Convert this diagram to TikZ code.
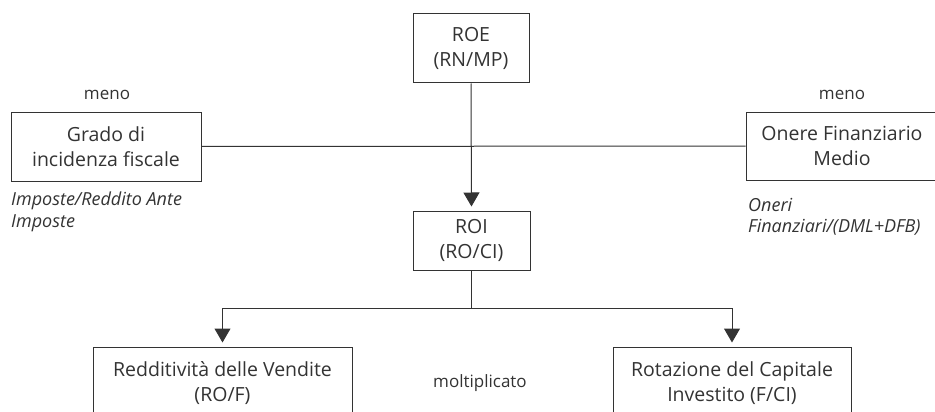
\documentclass[tikz,border=0pt]{standalone}
\usepackage{fontspec}
\setmainfont{Open Sans}
\usetikzlibrary{arrows.meta}
\definecolor{ink}{HTML}{333333}
\tikzset{
  box/.style={draw=ink, line width=1pt, inner sep=0pt},
  boxtext/.style={text=ink, align=center, font=\fontsize{19.5}{25}\selectfont, inner sep=0pt},
  note/.style={text=ink, align=left, anchor=west, font=\fontsize{18}{21.5}\selectfont\itshape, inner sep=0pt},
  small/.style={text=ink, font=\fontsize{17}{20}\selectfont, inner sep=0pt},
  link/.style={draw=ink, line width=1pt},
  arr/.style={link, -{Triangle[width=16pt,length=14pt]}, shorten >=4pt}
}
\begin{document}
\begin{tikzpicture}[x=1pt,y=-1pt]
\useasboundingbox (0,0) rectangle (935,412);
\clip (0,0) rectangle (935,412);

% top level
\node[box, minimum width=116pt, minimum height=69pt] (roe) at (471,48.5) {};
\node[boxtext] at (roe) {ROE\\(RN/MP)};

% side factors
\node[box, minimum width=190pt, minimum height=69pt] (grado) at (106,146.5) {};
\node[boxtext] at (grado) {Grado di\\incidenza fiscale};
\node[box, minimum width=200pt, minimum height=68pt] (onere) at (846,146) {};
\node[boxtext] at (842,146) {Onere Finanziario\\Medio};

\node[small] at (107,95) {meno};
\node[small] at (842,95) {meno};

\node[note] at (11,212) {Imposte/Reddito Ante\\Imposte};
\node[note] at (748,217) {Oneri\\Finanziari/(DML+DFB)};

% middle level
\node[box, minimum width=117pt, minimum height=59pt] (roi) at (471.5,240.5) {};
\node[boxtext] at (roi) {ROI\\(RO/CI)};

% bottom level
\node[box, minimum width=259pt, minimum height=72pt] (redd) at (222.5,383) {};
\node[boxtext] at (redd) {Redditività delle Vendite\\(RO/F)};
\node[box, minimum width=238pt, minimum height=72pt] (rot) at (732,383) {};
\node[boxtext] at (rot) {Rotazione del Capitale\\Investito (F/CI)};

\node[small] at (480,383) {moltiplicato};

% connectors
\draw[link] (grado.east) -- (onere.west);
\draw[arr] (roe.south) -- (roi.north);
\coordinate (split) at (471.5,308);
\draw[link] (roi.south) -- (split);
\draw[arr] (split) -| (redd.north);
\draw[arr] (split) -| (rot.north);
\end{tikzpicture}
\end{document}
